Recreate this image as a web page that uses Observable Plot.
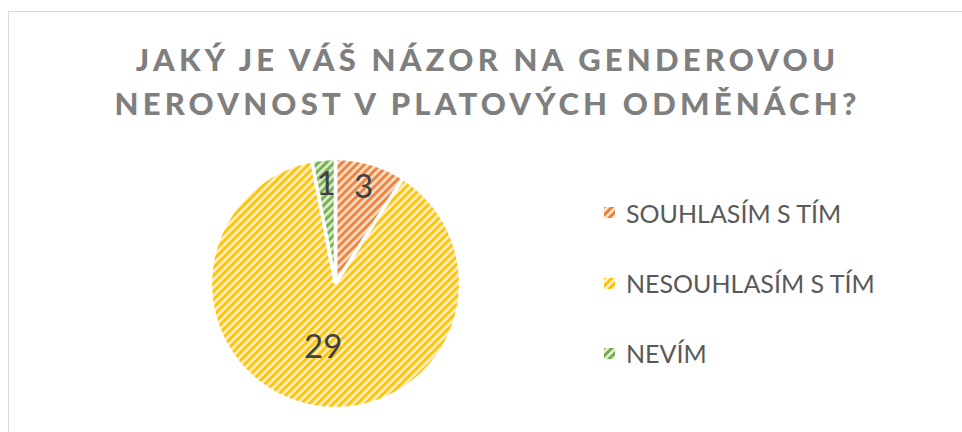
<!DOCTYPE html>
<html>
<head>
<meta charset="utf-8">
<script src="https://cdn.jsdelivr.net/npm/d3@7"></script>
<script src="https://cdn.jsdelivr.net/npm/@observablehq/plot@0.6"></script>
<style>
  html, body { margin: 0; padding: 0; background: #fff; }
  #wrap { position: relative; width: 962px; height: 432px; overflow: hidden; font-family: Lato, "Open Sans", sans-serif; }
  #frame { position: absolute; left: 8px; top: 11px; width: 1000px; height: 500px; border-left: 1.5px solid #d9d9d9; border-top: 1.5px solid #d9d9d9; box-sizing: border-box; }
  #title { position: absolute; left: 0; width: 975px; top: 37px; text-align: center; color: #7f7f7f; font-weight: 900; font-size: 31px; letter-spacing: 4.2px; line-height: 44px; }
  #legend { position: absolute; left: 604px; top: 0; }
  .item { position: absolute; left: 0; white-space: nowrap; display: flex; align-items: center; color: #595959; font-size: 25px; }
  .item svg { margin-right: 11px; }
  #chart { position: absolute; left: 0; top: 0; }
</style>
</head>
<body>
<svg width="0" height="0" style="position:absolute">
  <defs id="defs"></defs>
</svg>
<div id="wrap">
  <div id="frame"></div>
  <div id="chart"></div>
  <div id="title"></div>
  <div id="legend"></div>
</div>
<script>
// ---- data ----
const titleLines = ["JAKÝ JE VÁŠ NÁZOR NA GENDEROVOU", "NEROVNOST V PLATOVÝCH ODMĚNÁCH?"];
const categories = ["SOUHLASÍM S TÍM", "NESOUHLASÍM S TÍM", "NEVÍM"];
const values = [3, 29, 1];
const darkColors = ["#ED7D31", "#FFC000", "#70AD47"];
const lightColors = ["#FBE5D6", "#FFF2CC", "#E2F0D9"];

// ---- patterns (wide upward diagonal) ----
const defs = document.getElementById("defs");
const NS = "http://www.w3.org/2000/svg";
categories.forEach((c, i) => {
  const p = document.createElementNS(NS, "pattern");
  p.setAttribute("id", "pat" + i);
  p.setAttribute("patternUnits", "userSpaceOnUse");
  p.setAttribute("width", 8);
  p.setAttribute("height", 8);
  const r = document.createElementNS(NS, "rect");
  r.setAttribute("width", 8); r.setAttribute("height", 8);
  r.setAttribute("fill", lightColors[i]);
  p.appendChild(r);
  const path = document.createElementNS(NS, "path");
  path.setAttribute("d", "M-1,9 L9,-1 M-5,5 L5,-5 M3,13 L13,3");
  path.setAttribute("stroke", darkColors[i]);
  path.setAttribute("stroke-width", 3);
  p.appendChild(path);
  defs.appendChild(p);
});

// ---- pie geometry through d3.pie ----
const arcs = d3.pie().sort(null).startAngle(0).endAngle(2 * Math.PI)(values);
const slices = arcs.map((a, i) => {
  const pts = [{x: 0, y: 0}];
  const n = Math.max(4, Math.ceil((a.endAngle - a.startAngle) / (Math.PI / 180)));
  for (let k = 0; k <= n; k++) {
    const t = a.startAngle + (a.endAngle - a.startAngle) * k / n;
    pts.push({x: Math.sin(t), y: Math.cos(t)});
  }
  return pts;
});
const labelRadius = [0.8, 0.52, 0.8];
const labels = arcs.map((a, i) => {
  const m = (a.startAngle + a.endAngle) / 2;
  return {x: Math.sin(m) * labelRadius[i], y: Math.cos(m) * labelRadius[i], text: String(values[i])};
});

const chart = Plot.plot({
  width: 962,
  height: 432,
  marginLeft: 210,
  marginRight: 502,
  marginTop: 158,
  marginBottom: 24,
  x: {domain: [-1, 1], axis: null},
  y: {domain: [-1, 1], axis: null},
  style: {background: "transparent", overflow: "visible"},
  marks: [
    ...slices.map((pts, i) => Plot.line(pts, {
      x: "x", y: "y", curve: "linear-closed",
      fill: `url(#pat${i})`, stroke: "white", strokeWidth: 3.5, strokeLinejoin: "miter"
    })),
    Plot.text(labels, {x: "x", y: "y", text: "text", fontSize: 33, fill: "#404040", fontFamily: "Lato, 'Open Sans', sans-serif"})
  ]
});
document.getElementById("chart").appendChild(chart);

// ---- title ----
document.getElementById("title").innerHTML = titleLines.map(t => `<div>${t}</div>`).join("");

// ---- legend ----
const legend = document.getElementById("legend");
const legendTops = [212.5, 283, 353];
categories.forEach((c, i) => {
  const d = document.createElement("div");
  d.className = "item";
  d.style.top = (legendTops[i] - 16) + "px";
  d.style.height = "32px";
  d.innerHTML = `<svg width="11" height="11"><rect width="11" height="11" fill="url(#pat${i})"/></svg><span>${c}</span>`;
  legend.appendChild(d);
});
</script>
</body>
</html>
